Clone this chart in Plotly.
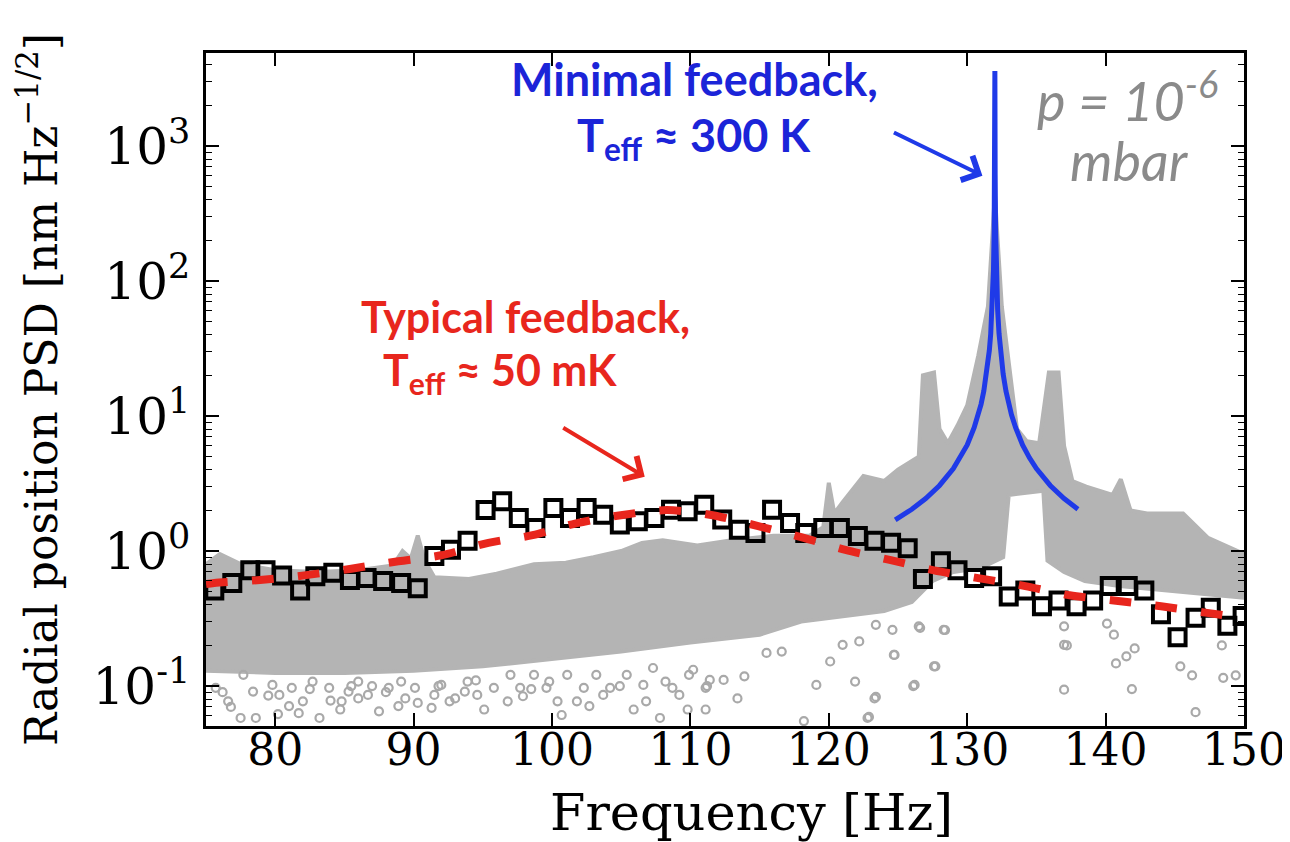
import plotly.graph_objects as go

# ---------------- data ----------------
# binned data (black open squares)
bin_freq = [75.6, 76.9, 78.2, 79.3, 80.5, 81.8, 82.9, 84.2, 85.4, 86.6, 87.8, 89.1, 90.3,
            91.5, 92.7, 93.9, 95.2, 96.4, 97.6, 98.8, 100.1, 101.3, 102.5, 103.7, 104.9,
            106.2, 107.4, 108.6, 109.8, 111.0, 112.3, 113.5, 114.7, 115.9, 117.2, 118.3,
            119.6, 120.8, 122.1, 123.3, 124.5, 125.7, 126.8, 128.1, 129.3, 130.5, 131.8,
            133.0, 134.2, 135.4, 136.6, 137.9, 139.1, 140.3, 141.6, 142.8, 144.0, 145.2,
            146.5, 147.6, 148.8, 149.9]
bin_psd = [0.51, 0.58, 0.72, 0.72, 0.66, 0.51, 0.65, 0.69, 0.61, 0.63, 0.60, 0.58, 0.53,
           0.92, 1.02, 1.19, 2.01, 2.34, 1.76, 1.48, 2.08, 1.76, 2.08, 1.86, 1.57,
           1.66, 1.76, 2.02, 1.97, 2.20, 1.71, 1.44, 1.36, 2.02, 1.61, 1.36,
           1.48, 1.48, 1.29, 1.19, 1.15, 1.05, 0.62, 0.84, 0.72, 0.63, 0.65,
           0.46, 0.51, 0.39, 0.43, 0.39, 0.43, 0.55, 0.55, 0.51, 0.34, 0.23,
           0.32, 0.38, 0.28, 0.33]

# typical-feedback fit (red dashed)
fit_freq = [75.0, 75.6, 78.9, 82.1, 85.5, 88.9, 92.0, 95.4, 98.6, 101.8, 105.1, 108.3,
            111.5, 114.9, 118.2, 121.2, 124.4, 127.6, 130.8, 134.2, 137.4, 140.6, 144.0,
            147.2, 150.0]
fit_psd = [0.57, 0.58, 0.61, 0.66, 0.74, 0.84, 0.93, 1.15, 1.31, 1.61, 1.85, 2.01,
           1.85, 1.53, 1.25, 1.02, 0.86, 0.72, 0.63, 0.55, 0.47, 0.43, 0.39,
           0.35, 0.32]

# minimal-feedback fit (blue)
min_freq = [124.8, 126.0, 127.0, 128.0, 129.0, 129.5, 130.0, 130.5, 130.8, 131.0, 131.2,
            131.4, 131.5, 131.6, 131.7, 131.8, 131.9, 131.95, 131.98, 132.0, 132.02,
            132.05, 132.1, 132.2, 132.3, 132.4, 132.5, 132.6, 132.8, 133.0, 133.2, 133.5,
            134.0, 134.5, 135.0, 136.0, 137.0, 138.0]
min_psd = [1.70, 2.04, 2.45, 3.06, 4.08, 4.90, 6.1, 8.2, 10.2, 12.2, 15.3,
           20.4, 24.5, 30.6, 40.8, 61.0, 122.0, 245.0, 610.0, 3600.0, 610.0,
           245.0, 122.0, 61.0, 40.8, 30.6, 24.5, 20.4, 15.3, 12.2, 10.2, 8.2,
           6.1, 4.9, 4.08, 3.06, 2.45, 2.04]

# raw PSD cloud (grey): upper and lower edge of the dense part
cloud_top_freq = [75.0, 76.0, 77.5, 80.0, 83.0, 86.0, 88.5, 89.2, 89.8, 90.3, 90.8, 91.5,
                  94.0, 96.0, 98.7, 101.0, 103.0, 105.0, 106.5, 108.0, 110.5, 113.0,
                  116.0, 118.6, 119.6, 120.0, 120.4, 121.0, 122.5, 124.0, 125.0, 126.5,
                  126.8, 127.6, 128.0, 128.6, 129.3, 130.0, 130.8, 131.5, 131.8, 132.0,
                  132.2, 132.5, 133.0, 133.6, 134.3, 135.2, 135.9, 136.6, 137.0, 137.6,
                  138.6, 140.5, 141.1, 141.8, 143.0, 145.6, 147.4, 150.0]
cloud_top_psd = [0.80, 0.95, 0.80, 0.72, 0.70, 0.72, 0.78, 1.0, 0.88, 1.3, 0.85, 0.64,
                 0.62, 0.68, 0.80, 0.82, 0.90, 1.0, 1.15, 1.2, 1.1, 1.2,
                 1.3, 1.3, 1.5, 3.2, 1.9, 2.3, 3.6, 3.3, 4.0, 5.0,
                 20.0, 21.0, 8.0, 6.3, 8.5, 12.0, 28.0, 65.0, 200.0, 450.0,
                 200.0, 65.0, 25.0, 8.0, 6.5, 6.3, 21.0, 21.0, 6.0, 3.3,
                 3.0, 2.6, 3.4, 2.0, 1.9, 1.9, 1.25, 0.95]
cloud_low_freq = [75.0, 80.0, 85.0, 90.0, 95.0, 100.0, 105.0, 110.0, 115.0, 118.0, 121.0,
                  124.0, 126.0, 127.5, 129.0, 131.0, 132.6, 133.0, 135.5, 135.8, 137.0,
                  138.5, 141.0, 145.0, 150.0]
cloud_low_psd = [0.13, 0.125, 0.125, 0.13, 0.14, 0.16, 0.18, 0.21, 0.24, 0.30, 0.33,
                 0.36, 0.42, 0.60, 0.70, 0.75, 0.90, 2.6, 2.8, 0.85, 0.70,
                 0.60, 0.55, 0.50, 0.45]

# isolated raw points below the dense cloud
stray_freq = [76.2, 76.8, 77.5, 78.6, 79.5, 80.2, 81.0, 81.7, 82.5, 83.2, 84.0, 84.7,
              85.5, 86.0, 87.0, 87.5, 88.0, 88.9, 90.3, 91.3, 91.8, 92.6, 93.7, 94.5,
              95.1, 96.8, 97.9, 98.5, 99.8, 100.7, 101.8, 102.7, 103.7, 104.9, 105.9,
              106.8, 107.8, 108.7, 109.8, 109.9, 111.1, 111.1, 111.2, 112.4, 113.4,
              113.9, 115.5, 116.6, 118.2, 119.1, 120.1, 121.0, 121.9, 122.2, 122.8,
              122.9, 123.3, 123.4, 123.4, 124.6, 124.7, 124.75, 126.1, 126.2, 126.5,
              126.6, 127.6, 127.7, 128.3, 128.4, 137.0, 137.0, 137.0, 137.2, 140.1,
              140.6, 140.75, 141.5, 141.9, 142.1, 145.4, 146.25, 146.5, 148.4, 148.5,
              149.4,
              75.7, 76.6, 77.7, 78.4, 79.8, 80.3, 81.2, 82.0, 82.7, 83.9, 84.8, 85.3,
              86.0, 86.7, 88.2, 89.1, 89.4, 90.1, 91.5, 92.0, 93.0, 93.9, 94.6, 95.8,
              97.0, 97.7, 98.7, 99.6, 100.4, 101.1, 102.3, 103.2, 104.2, 105.4, 106.6,
              107.3, 108.2, 109.2, 110.2, 111.4]
stray_psd = [0.090, 0.070, 0.058, 0.058, 0.085, 0.062, 0.071, 0.063, 0.095, 0.058, 0.078,
             0.067, 0.100, 0.081, 0.100, 0.065, 0.090, 0.071, 0.075, 0.069, 0.100, 0.077,
             0.091, 0.110, 0.067, 0.077, 0.084, 0.095, 0.108, 0.061, 0.077, 0.071, 0.086,
             0.100, 0.067, 0.077, 0.058, 0.097, 0.067, 0.121, 0.097, 0.067, 0.100, 0.111,
             0.081, 0.118, 0.176, 0.180, 0.055, 0.102, 0.152, 0.202, 0.108, 0.214, 0.058,
             0.059, 0.081, 0.284, 0.083, 0.261, 0.170, 0.170, 0.100, 0.102, 0.277, 0.270,
             0.140, 0.140, 0.261, 0.260, 0.277, 0.202, 0.094, 0.200, 0.290, 0.240, 0.147,
             0.166, 0.095, 0.190, 0.140, 0.120, 0.064, 0.200, 0.115, 0.120,
             0.097, 0.077, 0.121, 0.091, 0.102, 0.086, 0.097, 0.077, 0.108, 0.097, 0.077,
             0.091, 0.108, 0.086, 0.097, 0.108, 0.081, 0.097, 0.086, 0.102, 0.081, 0.108,
             0.086, 0.097, 0.121, 0.097, 0.121, 0.097, 0.077, 0.121, 0.097, 0.121, 0.097,
             0.121, 0.102, 0.136, 0.108, 0.086, 0.132, 0.111]

x_ticks = [80, 90, 100, 110, 120, 130, 140, 150]
y_ticks = [0.1, 1, 10, 100, 1000]
y_tick_text = ["10<sup>-1</sup>", "10<sup>0</sup>", "10<sup>1</sup>", "10<sup>2</sup>", "10<sup>3</sup>"]

# ---------------- styles ----------------
GREY = "#b4b4b4"
BLUE_LINE = "#1f3ae8"
BLUE_TEXT = "#1b24d8"
RED = "#e8261d"
SERIF = "DejaVu Serif"
SANS = "Lato"

fig = go.Figure()

# dense grey cloud
fig.add_trace(go.Scatter(
    x=cloud_top_freq + cloud_low_freq[::-1],
    y=cloud_top_psd + cloud_low_psd[::-1],
    mode="lines", fill="toself", fillcolor=GREY,
    line=dict(color=GREY, width=4), hoverinfo="skip", showlegend=False))

# stray grey points
fig.add_trace(go.Scatter(
    x=stray_freq, y=stray_psd, mode="markers",
    marker=dict(symbol="circle-open", size=8, color="#a9a9a9", line=dict(width=2.2)),
    showlegend=False))

# binned squares
fig.add_trace(go.Scatter(
    x=bin_freq, y=bin_psd, mode="markers",
    marker=dict(symbol="square-open", size=16, color="black", line=dict(width=4)),
    showlegend=False))

# red dashed fit
fig.add_trace(go.Scatter(
    x=fit_freq, y=fit_psd, mode="lines",
    line=dict(color=RED, width=8, dash="22px,24px", shape="spline", smoothing=0.8),
    showlegend=False))

# blue fit
fig.add_trace(go.Scatter(
    x=min_freq, y=min_psd, mode="lines",
    line=dict(color=BLUE_LINE, width=5), showlegend=False))

minor_vals = [m * 10 ** e for e in range(-2, 4) for m in range(2, 10)]

fig.update_layout(
    width=1290, height=842,
    margin=dict(l=198, r=46, t=45, b=124),
    paper_bgcolor="white", plot_bgcolor="white",
    showlegend=False,
    xaxis=dict(
        range=[75, 150], tickmode="array", tickvals=x_ticks,
        ticktext=[str(v) for v in x_ticks],
        ticks="inside", ticklen=13, tickwidth=1.6, tickcolor="black",
        showline=True, linewidth=2.5, linecolor="black", mirror="allticks",
        showgrid=False, zeroline=False, ticklabelstandoff=-17,
        tickfont=dict(family=SERIF, size=44, color="black"),
    ),
    yaxis=dict(
        type="log", range=[-1.296, 3.689], tickmode="array", tickvals=y_ticks,
        ticktext=y_tick_text,
        ticks="inside", ticklen=13, tickwidth=1.6, tickcolor="black",
        minor=dict(tickmode="array", tickvals=minor_vals, ticks="inside", ticklen=6,
                   tickwidth=1.2, tickcolor="black", showgrid=False),
        showline=True, linewidth=2.5, linecolor="black", mirror="allticks",
        showgrid=False, zeroline=False, ticklabelstandoff=3,
        tickfont=dict(family=SERIF, size=50, color="black"),
        title=dict(text="Radial position PSD [nm Hz<sup>\u22121/2</sup>]",
                   font=dict(family=SERIF, size=44, color="black"), standoff=22),
    ),
)

def px_to_paper(px, py):
    return (px - 198) / 1046, (718 - py) / 673

# x-axis title
tx, ty = px_to_paper(748, 804)
fig.add_annotation(x=tx, y=ty, xref="paper", yref="paper", text="Frequency [Hz]",
                   showarrow=False, xanchor="center", yanchor="middle",
                   font=dict(family=SERIF, size=51, color="black"))

annos = [
    ("<b>Minimal feedback,</b>", 690, 71, BLUE_TEXT, 45, "normal", 700),
    ("<b>T<sub>eff</sub> \u2248 300 K</b>", 690, 130, BLUE_TEXT, 45, "normal", 700),
    ("<b>Typical feedback,</b>", 520, 308, RED, 43, "normal", 700),
    ("<b>T<sub>eff</sub> \u2248 50 mK</b>", 494, 364, RED, 43, "normal", 700),
    ("p = 10<sup>-6</sup>", 1127, 89, "#8a8a8a", 54, "italic", 400),
    ("mbar", 1129, 152, "#8a8a8a", 54, "italic", 400),
]
for text, px, py, col, size, style, weight in annos:
    ax_, ay_ = px_to_paper(px, py)
    fig.add_annotation(x=ax_, y=ay_, xref="paper", yref="paper", text=text,
                       showarrow=False, xanchor="center", yanchor="middle",
                       font=dict(family=SANS, size=size, color=col, style=style, weight=weight))

# arrows (head positions in data coordinates; log axis takes log10 values)
fig.add_annotation(x=131.1, y=2.78, xref="x", yref="y", ax=-90, ay=-44, text="",
                   showarrow=True, arrowhead=4, arrowsize=1.3, arrowwidth=4,
                   arrowcolor=BLUE_LINE)
fig.add_annotation(x=106.7, y=0.55, xref="x", yref="y", ax=-83, ay=-50, text="",
                   showarrow=True, arrowhead=4, arrowsize=1.3, arrowwidth=4,
                   arrowcolor=RED)

fig.write_html("out.html")
